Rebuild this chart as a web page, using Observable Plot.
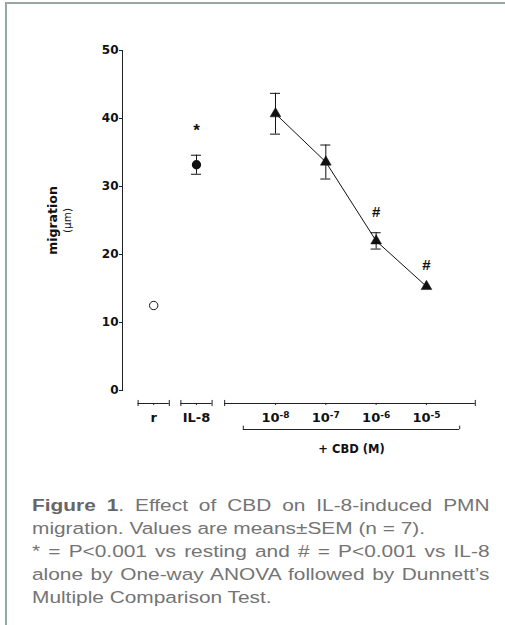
<!DOCTYPE html>
<html><head><meta charset="utf-8">
<script src="https://cdn.jsdelivr.net/npm/d3@7"></script>
<script src="https://cdn.jsdelivr.net/npm/@observablehq/plot@0.6"></script>
<style>
body{margin:0;background:#fff;width:505px;height:625px;overflow:hidden;position:relative;font-family:"Liberation Sans",Arial,sans-serif}
#frameTop{position:absolute;left:5px;top:2px;width:500px;height:2px;background:#93aaa3}
#frameLeft{position:absolute;left:5px;top:2px;width:2px;height:623px;background:#93aaa3}
#chart{position:absolute;left:0;top:0}
#caption{position:absolute;left:32px;top:494px;width:366px;transform:scaleX(1.25);transform-origin:0 0;font-size:16.7px;line-height:23px;color:#747474}
#caption b{color:#666}
.j{text-align:justify;text-align-last:justify;white-space:nowrap}
.l{text-align:left;white-space:nowrap}
</style></head><body>
<div id="frameTop"></div><div id="frameLeft"></div>
<div id="chart"></div>
<div id="caption">
<div class="j"><b>Figure 1</b>. Effect of CBD on IL-8-induced PMN</div>
<div class="l">migration. Values are means±SEM (n = 7).</div>
<div class="j">* = P&lt;0.001 vs resting and # = P&lt;0.001 vs IL-8</div>
<div class="j">alone by One-way ANOVA followed by Dunnett’s</div>
<div class="l">Multiple Comparison Test.</div>
</div>
<script>
// ---- data ----
const groups = ["r", "IL-8", "10^-8", "10^-7", "10^-6", "10^-5"];
const slot = [0.58, 1.43, 3, 4, 5, 6];            // x-scale slot of each group
const means = [12.5, 33.2, 40.7, 33.6, 22.0, 15.3];
const sem = [0, 1.4, 3.0, 2.5, 1.2, 0];
const kind = ["resting", "il8", "cbd", "cbd", "cbd", "cbd"];
const sig = ["", "*", "", "", "#", "#"];
const yTicks = [0, 10, 20, 30, 40, 50];
const cbdLabel = "+ CBD (M)";

const data = groups.map((g, i) => ({g, x: slot[i], m: means[i], s: sem[i], kind: kind[i], sig: sig[i]}));
const cbd = data.filter(d => d.kind === "cbd");
const withErr = data.filter(d => d.s > 0);

// axis segments below the plot (in x-scale units around the groups)
const segs = [
  {x1: slot[0] - 0.31, x2: slot[0] + 0.31},
  {x1: slot[1] - 0.31, x2: slot[1] + 0.31},
  {x1: cbd[0].x - 1.01, x2: cbd[cbd.length - 1].x + 0.97}
];
const segEnds = segs.flatMap(s => [s.x1, s.x2]);
const bracket = {x1: cbd[0].x - 0.64, x2: cbd[cbd.length - 1].x + 0.66};
const cap = 0.1;

const chart = Plot.plot({
  width: 505, height: 460,
  marginLeft: 122, marginRight: 28.7, marginTop: 50, marginBottom: 70,
  x: {domain: [-0.04, 7], axis: null},
  y: {domain: [0, 50], axis: null},
  style: {fontFamily: "DejaVu Sans", fontSize: "12px", fontWeight: "bold", background: "transparent", color: "#111"},
  marks: [
    Plot.frame({anchor: "left", stroke: "#222"}),
    Plot.axisY({ticks: yTicks, tickSize: 3, tickPadding: 1, stroke: "#222", label: null, fontSize: 12, fontWeight: "bold"}),
    // y label
    Plot.text(["migration"], {frameAnchor: "left", textAnchor: "middle", rotate: -90, dx: -70, fontSize: 12.5, fontWeight: "bold"}),
    Plot.text(["(µm)"], {frameAnchor: "left", textAnchor: "middle", rotate: -90, dx: -55, fontSize: 10.5, fontWeight: "normal"}),
    // x axis segments
    Plot.ruleY(segs, {y: () => 0, x1: "x1", x2: "x2", dy: 13, stroke: "#222"}),
    Plot.ruleX(segEnds, {x: d => d, y1: -0.45, y2: 0.45, dy: 13, stroke: "#222"}),
    Plot.ruleX(data, {x: "x", y1: -0.3, y2: 0, dy: 13, stroke: "#222"}),
    Plot.text(data, {x: "x", y: () => 0, text: "g", dy: 27, fontSize: 13, fontWeight: "bold"}),
    // bracket
    Plot.ruleY([bracket], {y: () => 0, x1: "x1", x2: "x2", dy: 39, stroke: "#222"}),
    Plot.ruleX([bracket.x1, bracket.x2], {x: d => d, y1: 0, y2: 0.5, dy: 39, stroke: "#222"}),
    Plot.text([cbdLabel], {x: (bracket.x1 + bracket.x2) / 2, y: () => 0, dy: 59, fontSize: 11.5, fontWeight: "bold"}),
    // line
    Plot.line(cbd, {x: "x", y: "m", stroke: "#111", strokeWidth: 1}),
    // error bars
    Plot.ruleX(withErr, {x: "x", y1: d => d.m - d.s, y2: d => d.m + d.s, stroke: "#111"}),
    Plot.ruleY(withErr, {y: d => d.m + d.s, x1: d => d.x - cap, x2: d => d.x + cap, stroke: "#111"}),
    Plot.ruleY(withErr, {y: d => d.m - d.s, x1: d => d.x - cap, x2: d => d.x + cap, stroke: "#111"}),
    // markers
    Plot.dot(data.filter(d => d.kind === "resting"), {x: "x", y: "m", r: 4.2, fill: "white", stroke: "#111", strokeWidth: 1}),
    Plot.dot(data.filter(d => d.kind === "il8"), {x: "x", y: "m", r: 3.9, fill: "#111", stroke: "#111"}),
    Plot.dot(cbd, {x: "x", y: "m", symbol: "triangle", r: 4, fill: "#111", stroke: "#111", strokeWidth: 0.5}),
    // significance marks
    Plot.text(data.filter(d => d.sig === "*"), {x: "x", y: d => d.m + d.s, text: "sig", dy: -25, fontSize: 17, fontFamily: "Liberation Sans", fontWeight: "bold"}),
    Plot.text(data.filter(d => d.sig === "#"), {x: "x", y: d => d.m + d.s, text: "sig", dy: -21, fontSize: 15, fontFamily: "Liberation Sans", fontWeight: "bold"})
  ]
});

// superscript exponents in the concentration labels
d3.select(chart).selectAll("text").each(function() {
  const m = /^10\^(-\d+)$/.exec(this.textContent);
  if (m) {
    const t = d3.select(this);
    t.text("10");
    t.append("tspan").attr("dy", -4).attr("font-size", 9).text(m[1]);
  }
});

document.getElementById("chart").appendChild(chart);
</script>
</body></html>
